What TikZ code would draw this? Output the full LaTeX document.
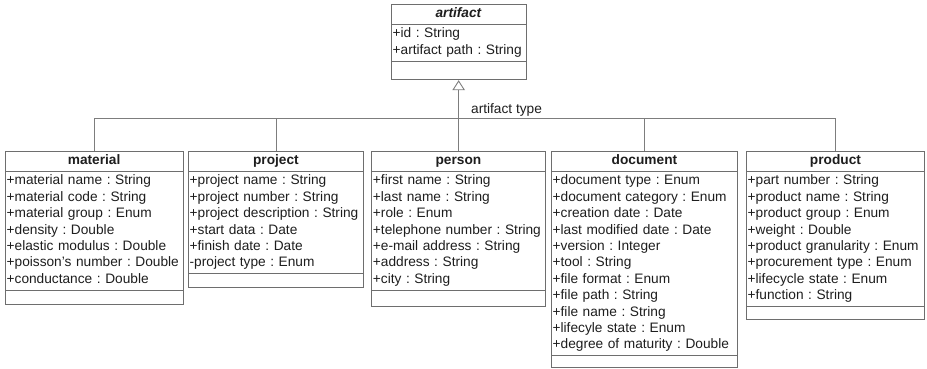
\documentclass[tikz,border=0pt]{standalone}
\usepackage{fontspec}
\setmainfont{Liberation Sans}
\usetikzlibrary{shapes.multipart,arrows.meta}
\definecolor{boxgray}{RGB}{110,110,110}
\definecolor{wiregray}{RGB}{125,125,125}
\definecolor{inkgray}{RGB}{30,30,30}
\newcommand{\classfont}{\fontsize{13.7}{16.4}\selectfont\frenchspacing\hyphenpenalty=10000\relax}
\newcommand{\classname}[1]{\hfill\strut\textbf{#1}\hfill\null}
\begin{document}
\begin{tikzpicture}[x=1pt,y=-1pt]
  \tikzset{class node/.style={rectangle split, rectangle split parts=3, draw=boxgray, fill=white,
      line width=0.9pt, inner xsep=1.5pt, inner ysep=1.4pt, anchor=north west,
      text=inkgray, font=\classfont},
    wire/.style={draw=wiregray, line width=0.9pt}}
  \useasboundingbox (0,0) rectangle (927,369);
  % superclass
  \node[class node, text width=132pt] (artifact) at (390.7,4) {\classname{\itshape artifact}
    \nodepart{two}\strut+id : String\\
    +artifact path : String\strut
    \nodepart{three}\rule{0pt}{15pt}};
  % subclasses
  \node[class node, text width=175pt] (material) at (4.7,151) {\classname{material}
    \nodepart{two}\strut+material name : String\\
    +material code : String\\
    +material group : Enum\\
    +density : Double\\
    +elastic modulus : Double\\
    +poisson's number : Double\\
    +conductance : Double\strut
    \nodepart{three}\rule{0pt}{10.8pt}};
  \node[class node, text width=172.6pt] (project) at (187.7,151) {\classname{project}
    \nodepart{two}\strut+project name : String\\
    +project number : String\\
    +project description : String\\
    +start data : Date\\
    +finish date : Date\\
    -project type : Enum\strut
    \nodepart{three}\rule{0pt}{10.3pt}};
  \node[class node, text width=171pt] (person) at (371,151) {\classname{person}
    \nodepart{two}\strut+first name : String\\
    +last name : String\\
    +role : Enum\\
    +telephone number : String\\
    +e-mail address : String\\
    +address : String\\
    +city : String\strut
    \nodepart{three}\rule{0pt}{12.2pt}};
  \node[class node, text width=183.6pt] (document) at (550.7,151) {\classname{document}
    \nodepart{two}\strut+document type : Enum\\
    +document category : Enum\\
    +creation date : Date\\
    +last modified date : Date\\
    +version : Integer\\
    +tool : String\\
    +file format : Enum\\
    +file path : String\\
    +file name : String\\
    +lifecyle state : Enum\\
    +degree of maturity : Double\strut
    \nodepart{three}\rule{0pt}{8pt}};
  \node[class node, text width=175.6pt] (product) at (745.7,151) {\classname{product}
    \nodepart{two}\strut+part number : String\\
    +product name : String\\
    +product group : Enum\\
    +weight : Double\\
    +product granularity : Enum\\
    +procurement type : Enum\\
    +lifecycle state : Enum\\
    +function : String\strut
    \nodepart{three}\rule{0pt}{9.6pt}};
  % generalisation
  \coordinate (bar) at (artifact.south |- 0,118.5);
  \draw[wire] (material.north) |- (product.north |- bar) -- (product.north);
  \foreach \sub in {project,person,document}
    \draw[wire] (\sub.north) -- (\sub.north |- bar);
  \draw[wire, -{Triangle[open,width=12.5pt,length=10pt,fill=white]}] (bar) -- (artifact.south);
  \node[anchor=base west, inner sep=0pt, text=inkgray, font=\fontsize{13.7}{16.4}\selectfont]
    (typelabel) at ([xshift=12.3pt]bar |- 0,113.5) {artifact type};
\end{tikzpicture}
\end{document}
